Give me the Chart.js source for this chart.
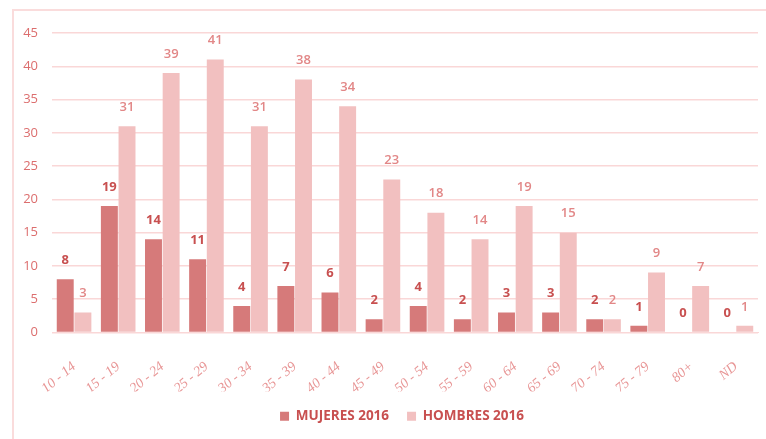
<!DOCTYPE html>
<html><head><meta charset="utf-8">
<script src="https://cdn.jsdelivr.net/npm/chart.js@4/dist/chart.umd.min.js"></script>
<style>html,body{margin:0;padding:0;background:#fff;}#wrap{width:766px;height:439px;position:relative;}</style>
</head><body><div id="wrap"><canvas id="c" width="766" height="439"></canvas></div>
<script>
const categories = ["10 - 14","15 - 19","20 - 24","25 - 29","30 - 34","35 - 39","40 - 44","45 - 49","50 - 54","55 - 59","60 - 64","65 - 69","70 - 74","75 - 79","80+","ND"];
const mujeres2016 = [8,19,14,11,4,7,6,2,4,2,3,3,2,1,0,0];
const hombres2016 = [3,31,39,41,31,38,34,23,18,14,19,15,2,9,7,1];
const yTicks = [0,5,10,15,20,25,30,35,40,45];

const labelColors = ['rgb(200,80,80)','rgb(226,135,135)'];

const borderPlugin = {
  id:'frame',
  beforeDraw(chart){
    const ctx = chart.ctx;
    ctx.save();
    ctx.strokeStyle = 'rgb(250,220,220)';
    ctx.lineWidth = 2;
    ctx.beginPath();
    ctx.moveTo(13, 439); ctx.lineTo(13, 10); ctx.lineTo(766, 10);
    ctx.stroke();
    ctx.restore();
  }
};
const legendShift = {
  id:'legendShift',
  afterLayout(chart){
    const lg = chart.legend;
    if (lg) { lg.left += 23; lg.right += 23; lg.adjustHitBoxes && lg.adjustHitBoxes(); }
  }
};
const valueLabels = {
  id:'valueLabels',
  afterDatasetsDraw(chart){
    const ctx = chart.ctx;
    ctx.save();
    ctx.textAlign = 'center';
    ctx.textBaseline = 'middle';
    chart.data.datasets.forEach((ds, di) => {
      const meta = chart.getDatasetMeta(di);
      ctx.fillStyle = labelColors[di];
      ctx.font = (di === 0 ? 'bold ' : '600 ') + '13px "Open Sans", sans-serif';
      meta.data.forEach((bar, i) => {
        ctx.fillText(String(ds.data[i]), bar.x, bar.y - 19);
      });
    });
    ctx.restore();
  }
};

new Chart(document.getElementById('c'), {
  type:'bar',
  data:{
    labels: categories,
    datasets:[
      {label:'MUJERES 2016', data: mujeres2016, backgroundColor:'rgb(214,122,122)', categoryPercentage:0.8, barPercentage:0.96},
      {label:'HOMBRES 2016', data: hombres2016, backgroundColor:'rgb(242,192,192)', categoryPercentage:0.8, barPercentage:0.96}
    ]
  },
  options:{
    responsive:false,
    animation:false,
    layout:{padding:{left:0,right:8,top:33,bottom:6}},
    plugins:{
      tooltip:{enabled:false},
      legend:{
        position:'bottom',
        labels:{
          boxWidth:9, boxHeight:9, padding:18,
          color:'rgb(200,80,80)',
          font:{family:'"Liberation Sans Narrow","Open Sans",sans-serif', size:13.5, weight:'bold'}
        }
      }
    },
    scales:{
      x:{
        grid:{display:false},
        border:{display:true, color:'rgb(250,215,215)'},
        ticks:{
          color:'rgb(232,150,150)', minRotation:40, maxRotation:40, padding:18,
          font:{family:'"Liberation Serif",serif', size:14, style:'italic'}
        },
        afterFit(s){ s.height = 59; }
      },
      y:{
        min:0, max:45,
        afterBuildTicks(s){ s.ticks = yTicks.map(v => ({value:v})); },
        grid:{color:'rgb(250,215,215)', lineWidth:1.5, drawTicks:false},
        border:{display:false},
        ticks:{color:'rgb(220,110,110)', padding:14, font:{family:'"Open Sans",sans-serif', size:13}},
        afterFit(s){ s.width = 52; }
      }
    }
  },
  plugins:[borderPlugin, legendShift, valueLabels]
});
</script></body></html>
